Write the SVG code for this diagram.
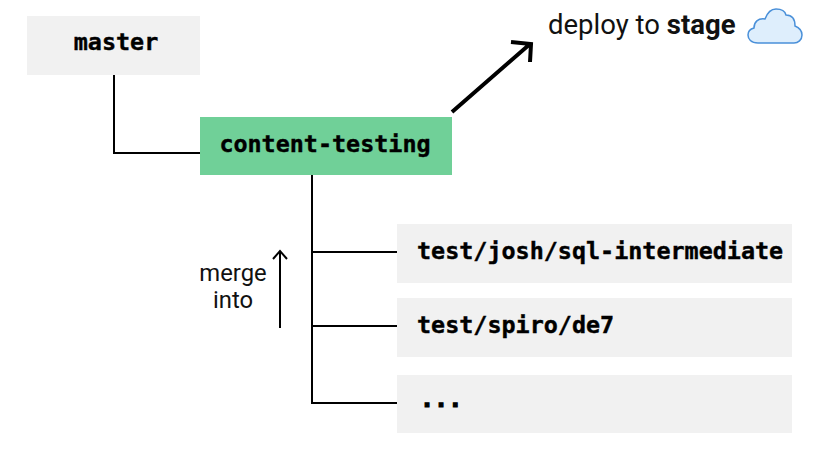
<svg xmlns="http://www.w3.org/2000/svg" width="834" height="452" viewBox="0 0 834 452">
<style>
.box{fill:#f1f1f1}
.code{font-family:"DejaVu Sans Mono","Liberation Mono",monospace;font-weight:700;font-size:23.4px;fill:#000;stroke:#000;stroke-width:.4px}
.lab{font-family:Roboto,"Liberation Sans",sans-serif;font-size:23.8px;fill:#111}
.ln{fill:none;stroke:#000;stroke-width:2}
</style>
<rect width="834" height="452" fill="#fff"/>
<g id="connectors">
<path class="ln" d="M114 75V153H200"/>
<path class="ln" d="M312 175V403H397M312 252H397M312 326H397"/>
<path class="ln" d="M280 328V252M273 259L280 251L287 259"/>
<path fill="none" stroke="#000" stroke-width="4" d="M452 112L530 44M511 42L531 44L530 62"/>
</g>
<g id="master"><rect class="box" x="27" y="16" width="173" height="59"/><text class="code" x="116" y="50" text-anchor="middle">master</text></g>
<g id="content-testing"><rect x="200" y="117" width="252" height="58" fill="#70d098"/><text class="code" x="325" y="152" text-anchor="middle">content-testing</text></g>
<g id="josh"><rect class="box" x="397" y="224" width="395" height="59"/><text class="code" x="417" y="259">test/josh/sql-intermediate</text></g>
<g id="spiro"><rect class="box" x="397" y="298" width="395" height="59"/><text class="code" x="417" y="333">test/spiro/de7</text></g>
<g id="more"><rect class="box" x="397" y="375" width="395" height="58"/><text class="code" x="420" y="407" style="stroke-width:1.2px">...</text></g>
<g id="merge"><text class="lab" x="233" y="281" text-anchor="middle">merge</text><text class="lab" x="233" y="308" text-anchor="middle">into</text></g>
<g id="deploy"><text x="548" y="34" font-family="Roboto,'Liberation Sans',sans-serif" font-size="27.5" fill="#111">deploy to <tspan font-weight="700">stage</tspan></text>
<path d="M758 43C751 43 748 39 748 35C748 31 750 29 754 28C754 22 758 18 765 19C768 11 772 9 776 9C781 9 785 11 786 15C792 15 795 19 795 26C800 28 802 31 802 35C802 40 798 43 794 43Z" fill="#deeefc" stroke="#4a90d9" stroke-width="1.5"/></g>
</svg>
